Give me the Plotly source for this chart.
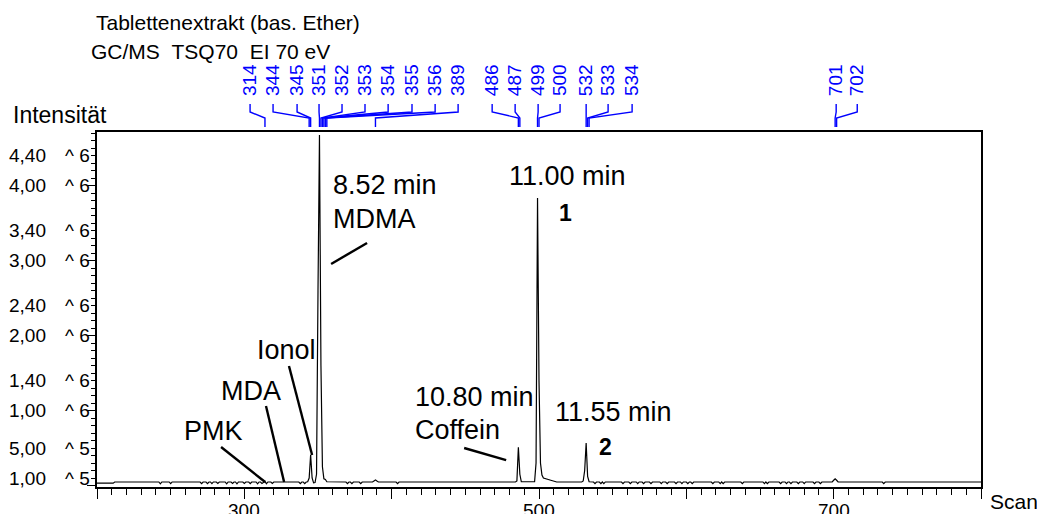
import plotly.graph_objects as go

FONT = "Arial, Liberation Sans, sans-serif"

# ---------------- data (intensity in units of 10^6) ----------------
scan = [
    200, 211, 212,
    242, 243, 244, 249, 250, 251,
    270, 271, 272, 274, 275, 276, 277, 278, 279, 281, 282, 283,
    287, 288, 289, 291, 292, 293, 294, 295, 296, 299, 300, 301,
    303, 304, 305, 308, 309, 310, 311, 312, 313, 314, 315, 316, 318, 319, 320,
    337, 338, 339, 340, 341, 342,
    343, 344, 345, 346, 347, 348,
    349, 350, 351, 352, 353, 354, 355, 356,
    369, 370, 371, 372, 373, 374, 378, 379, 380,
    387, 388, 389, 390, 391, 403, 404, 405,
    484, 485, 486, 487, 488,
    497, 498, 499, 500, 501, 502, 503, 505, 508, 512,
    529, 530, 531, 532, 533, 534,
    537, 538, 539, 541, 542, 543, 544, 545,
    556, 557, 558, 561, 562, 563, 566, 567, 568, 570, 571, 572,
    575, 576, 577, 582, 583, 584, 586, 587, 588, 592, 593, 594,
    596, 597, 598, 600, 601, 602, 603, 604, 605,
    617, 618, 619, 622, 623, 624, 625, 626,
    637, 638, 639, 652, 653, 654, 655, 656,
    663, 664, 665, 667, 668, 669, 670, 671, 672, 675, 676, 677,
    679, 680, 681, 686, 687, 688, 690, 691, 692,
    699, 700, 701, 702, 703,
    733, 734, 735,
    800,
]
intensity = [
    0.032, 0.032, 0.047,
    0.047, 0.022, 0.047, 0.047, 0.024, 0.047,
    0.047, 0.025, 0.047, 0.047, 0.026, 0.047, 0.047, 0.024, 0.047, 0.047, 0.027, 0.047,
    0.047, 0.022, 0.047, 0.047, 0.028, 0.047, 0.047, 0.023, 0.047, 0.047, 0.027, 0.047,
    0.047, 0.025, 0.047, 0.047, 0.022, 0.047, 0.047, 0.026, 0.047, 0.055, 0.024, 0.047, 0.047, 0.027, 0.047,
    0.047, 0.025, 0.047, 0.047, 0.026, 0.047,
    0.050, 0.100, 0.410, 0.100, 0.035, 0.040,
    0.150, 2.600, 4.680, 1.600, 0.250, 0.090, 0.080, 0.050,
    0.047, 0.025, 0.047, 0.047, 0.026, 0.047, 0.047, 0.025, 0.047,
    0.047, 0.060, 0.075, 0.060, 0.047, 0.047, 0.025, 0.047,
    0.047, 0.060, 0.510, 0.150, 0.050,
    0.050, 0.300, 3.840, 1.400, 0.300, 0.140, 0.100, 0.085, 0.070, 0.047,
    0.047, 0.060, 0.200, 0.567, 0.120, 0.050,
    0.047, 0.025, 0.047, 0.047, 0.025, 0.047, 0.024, 0.047,
    0.047, 0.025, 0.047, 0.047, 0.026, 0.047, 0.047, 0.024, 0.047, 0.047, 0.026, 0.047,
    0.047, 0.025, 0.047, 0.047, 0.024, 0.047, 0.047, 0.026, 0.047, 0.047, 0.025, 0.047,
    0.047, 0.024, 0.047, 0.047, 0.026, 0.047, 0.047, 0.025, 0.047,
    0.047, 0.025, 0.047, 0.047, 0.024, 0.047, 0.026, 0.047,
    0.047, 0.025, 0.047, 0.047, 0.024, 0.047, 0.026, 0.047,
    0.047, 0.025, 0.047, 0.047, 0.024, 0.047, 0.047, 0.026, 0.047, 0.047, 0.025, 0.047,
    0.047, 0.024, 0.047, 0.047, 0.025, 0.047, 0.047, 0.026, 0.047,
    0.047, 0.070, 0.090, 0.070, 0.047,
    0.047, 0.025, 0.047,
    0.047,
]
assert len(scan) == len(intensity)

# detected peak scan numbers (blue labels at the top)
peak_labels = [314, 344, 345, 351, 352, 353, 354, 355, 356, 389,
               486, 487, 499, 500, 532, 533, 534, 701, 702]

# y tick labels (mantissa / exponent)
ytick_vals = [4.4, 4.0, 3.4, 3.0, 2.4, 2.0, 1.4, 1.0, 0.5, 0.1]
ytick_mant = ["4,40", "4,00", "3,40", "3,00", "2,40", "2,00", "1,40", "1,00", "5,00", "1,00"]
ytick_exp = ["6", "6", "6", "6", "6", "6", "6", "6", "5", "5"]

xtick_vals = [300, 500, 700]

# ---------------- layout constants ----------------
label_x_pos = [303.9, 319.5, 335.8, 350.7, 366.3, 381.9, 397.6, 413.8, 429.5, 445.1,
               468.2, 483.8, 499.4, 514.3, 532.0, 546.9, 563.2, 701.7, 716.0]

OFF = 8  # page body margin
W, H = 1045, 514
ML = 97 - OFF
MT = 132 - OFF
MB = H - (487 - OFF)
MR = W - (981 - OFF)
plot_h = H - MT - MB
plot_w = W - ML - MR


def py(pix):  # page pixel y -> paper y
    return (H - MB - (pix - OFF)) / plot_h


def px(pix):  # page pixel x -> paper x
    return (pix - OFF - ML) / plot_w


fig = go.Figure()
fig.add_trace(go.Scatter(x=scan, y=intensity, mode="lines",
                         line=dict(color="black", width=1.2), hoverinfo="skip"))

ann = []
shapes = []

# titles
ann.append(dict(text="Tablettenextrakt (bas. Ether)", x=px(94), y=py(23), xref="paper", yref="paper",
                xanchor="left", yanchor="middle", showarrow=False, font=dict(size=21)))
ann.append(dict(text="GC/MS\u00a0\u00a0TSQ70\u00a0\u00a0EI 70 eV", x=px(89), y=py(51.5), xref="paper",
                yref="paper", xanchor="left", yanchor="middle", showarrow=False, font=dict(size=21)))
ann.append(dict(text="Intensität", x=px(11), y=py(115), xref="paper", yref="paper",
                xanchor="left", yanchor="middle", showarrow=False, font=dict(size=23)))
ann.append(dict(text="Scan", x=px(988), y=py(501), xref="paper", yref="paper",
                xanchor="left", yanchor="middle", showarrow=False, font=dict(size=21)))

# y tick labels
for v, m, e in zip(ytick_vals, ytick_mant, ytick_exp):
    ann.append(dict(text=m, x=px(48), y=v, xref="paper", yref="y", xanchor="right",
                    yanchor="middle", showarrow=False, font=dict(size=19)))
    ann.append(dict(text="^\u00a0" + e, x=px(92), y=v, xref="paper", yref="y", xanchor="right",
                    yanchor="middle", showarrow=False, font=dict(size=19)))

# x tick labels
for v in xtick_vals:
    ann.append(dict(text=str(v), x=v, y=py(511), xref="x", yref="paper", xanchor="center",
                    yanchor="middle", showarrow=False, font=dict(size=19)))

# blue peak labels with leader lines
for s, lx in zip(peak_labels, label_x_pos):
    ann.append(dict(text=str(s), x=lx, y=py(98), xref="x", yref="paper", xanchor="center",
                    yanchor="bottom", textangle=-90, showarrow=False,
                    font=dict(size=19, color="#0000ff")))
    path = f"M {lx},{py(104)} L {lx},{py(112)} L {s},{py(118)} L {s},{py(127)}"
    shapes.append(dict(type="path", path=path, xref="x", yref="paper",
                       line=dict(color="#0000ff", width=1.4)))

# peak annotations (text)
peak_text = [
    ("8.52 min", 358.9, 4.012, "left", 27, False),
    ("MDMA", 358.9, 3.558, "left", 27, False),
    ("11.00 min", 478.3, 4.132, "left", 27, False),
    ("1", 512.3, 3.638, "left", 23, True),
    ("Ionol", 307.3, 1.809, "left", 27, False),
    ("MDA", 326.3, 1.262, "right", 27, False),
    ("PMK", 300.5, 0.728, "right", 27, False),
    ("10.80 min", 414.5, 1.182, "left", 27, False),
    ("Coffein", 414.5, 0.741, "left", 27, False),
    ("11.55 min", 509.6, 0.981, "left", 27, False),
    ("2", 539.4, 0.514, "left", 23, True),
]
for t, x, y, xa, fs, bold in peak_text:
    ann.append(dict(text=f"<b>{t}</b>" if bold else t, x=x, y=y, xref="x", yref="y",
                    xanchor=xa, yanchor="middle", showarrow=False, font=dict(size=fs)))

# black leader lines
leaders = [
    (358.9, 2.958, 383.3, 3.238),
    (330.3, 1.596, 346.0, 0.407),
    (314.7, 1.062, 327.0, 0.047),
    (284.2, 0.514, 314.1, 0.047),
    (449.2, 0.501, 477.7, 0.340),
]
for x0, y0, x1, y1 in leaders:
    shapes.append(dict(type="line", x0=x0, y0=y0, x1=x1, y1=y1, xref="x", yref="y",
                       line=dict(color="black", width=2.4)))

fig.update_layout(
    width=W, height=H,
    margin=dict(l=ML, r=MR, t=MT, b=MB, pad=0),
    plot_bgcolor="white", paper_bgcolor="white",
    showlegend=False,
    font=dict(family=FONT, color="black"),
    annotations=ann, shapes=shapes,
    xaxis=dict(range=[200, 800], showgrid=False, zeroline=False, showline=True, mirror=True,
               linecolor="black", linewidth=1.5, ticks="outside", tickmode="linear", tick0=200,
               dtick=100, ticklen=10, tickwidth=1.2, tickcolor="black", showticklabels=False,
               minor=dict(tickmode="linear", tick0=200, dtick=10, ticks="outside", ticklen=6,
                          tickwidth=1.2, tickcolor="black", showgrid=False)),
    yaxis=dict(range=[-0.02, 4.72], showgrid=False, zeroline=False, showline=True, mirror=True,
               linecolor="black", linewidth=1.5, ticks="outside", tickmode="linear", tick0=0,
               dtick=1, ticklen=8, tickwidth=1.2, tickcolor="black", showticklabels=False,
               minor=dict(tickmode="linear", tick0=0, dtick=0.1, ticks="outside", ticklen=4,
                          tickwidth=1.2, tickcolor="black", showgrid=False)),
)

fig.write_html("out.html")
